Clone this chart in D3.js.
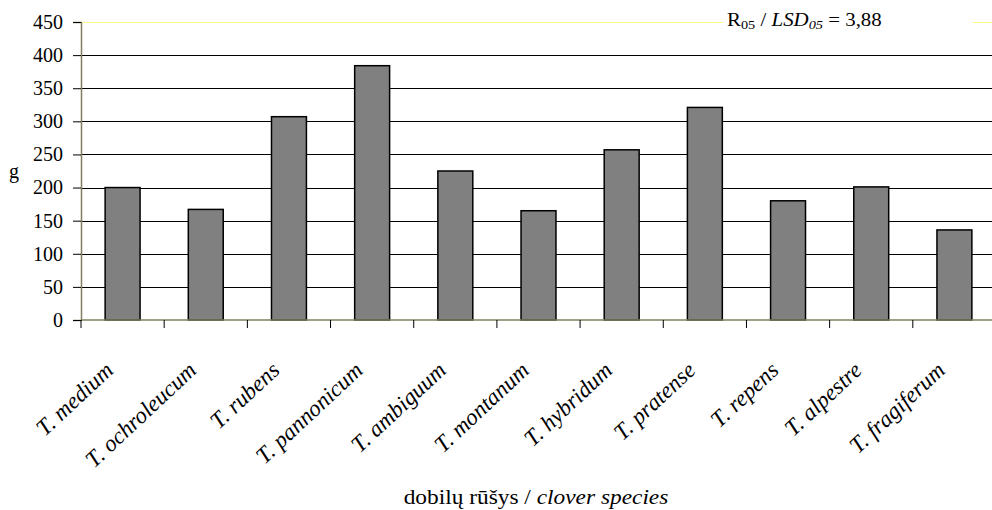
<!DOCTYPE html>
<html>
<head>
<meta charset="utf-8">
<script src="https://cdn.jsdelivr.net/npm/d3@7/dist/d3.min.js"></script>
<style>
  body { margin: 0; background: #fff; }
</style>
</head>
<body>
<svg id="chart"></svg>
<script>
const species = ["T. medium", "T. ochroleucum", "T. rubens", "T. pannonicum", "T. ambiguum",
  "T. montanum", "T. hybridum", "T. pratense", "T. repens", "T. alpestre", "T. fragiferum"];
const mass = [200, 167, 307, 384, 225, 165, 257, 321, 180, 201, 136];
const yTicks = [0, 50, 100, 150, 200, 250, 300, 350, 400, 450];

const width = 992, height = 510;
const plotLeft = 81, plotRight = 996, plotTop = 22, plotBottom = 320;
const serif = "'Liberation Serif', 'Times New Roman', serif";

const svg = d3.select("#chart").attr("width", width).attr("height", height)
  .style("display", "block")
  .attr("font-family", serif);

const x = d3.scaleBand().domain(species).range([plotLeft, plotRight])
  .paddingInner(0.58).paddingOuter(0.29);
const y = d3.scaleLinear().domain([0, 450]).range([plotBottom, plotTop]);

// gridlines, top one is pale yellow
svg.append("g").selectAll("line")
  .data(yTicks.filter(d => d > 0))
  .join("line")
  .attr("x1", plotLeft).attr("x2", plotRight)
  .attr("y1", d => Math.round(y(d)) + 0.5).attr("y2", d => Math.round(y(d)) + 0.5)
  .attr("stroke", d => d == 450 ? "#ffff8c" : "#000")
  .attr("stroke-width", 1);

// box behind the LSD note
svg.append("rect")
  .attr("x", 723).attr("y", 12).attr("width", 250).attr("height", 20)
  .attr("fill", "#fff");

const note = svg.append("text")
  .attr("transform", "translate(727,26) scale(1.1,1)")
  .attr("font-size", 19);
note.append("tspan").text("R");
note.append("tspan").attr("font-size", 13).attr("dy", 3).text("05");
note.append("tspan").attr("dy", -3).text(" / ");
note.append("tspan").attr("font-style", "italic").text("LSD");
note.append("tspan").attr("font-style", "italic").attr("font-size", 13).attr("dy", 3).text("05");
note.append("tspan").attr("dy", -3).text(" = 3,88");

// bars
svg.append("g").selectAll("rect")
  .data(species)
  .join("rect")
  .attr("x", d => x(d))
  .attr("y", (d, i) => y(mass[i]))
  .attr("width", x.bandwidth())
  .attr("height", (d, i) => y(0) - y(mass[i]))
  .attr("fill", "#808080")
  .attr("stroke", "#000")
  .attr("stroke-width", 1.5);

// y axis
const yAxis = svg.append("g")
  .attr("transform", "translate(" + plotLeft + ",0)")
  .call(d3.axisLeft(y).tickValues(yTicks).tickSize(8).tickPadding(10).tickFormat(d3.format("d")));
yAxis.attr("font-family", serif).attr("font-size", 20);
yAxis.select(".domain").attr("stroke", "#80805f").attr("stroke-width", 1.5);
yAxis.selectAll(".tick line").attr("stroke", "#000");
yAxis.selectAll(".tick text").attr("fill", "#000");

// x axis line and ticks between categories
svg.append("line")
  .attr("x1", plotLeft).attr("x2", plotRight).attr("y1", plotBottom).attr("y2", plotBottom)
  .attr("stroke", "#80805f").attr("stroke-width", 1.5);
svg.append("g").selectAll("line")
  .data(d3.range(species.length + 1))
  .join("line")
  .attr("x1", i => plotLeft + i * x.step()).attr("x2", i => plotLeft + i * x.step())
  .attr("y1", plotBottom).attr("y2", plotBottom + 8)
  .attr("stroke", "#000");

// rotated category labels
svg.append("g").selectAll("text")
  .data(species)
  .join("text")
  .attr("transform", d => "translate(" + (x(d) + x.bandwidth() / 2 - 8) + ",372) rotate(-43)")
  .attr("text-anchor", "end")
  .attr("font-size", 23)
  .attr("font-style", "italic")
  .text(d => d);

// axis titles
svg.append("text")
  .attr("x", 14).attr("y", 178)
  .attr("text-anchor", "middle")
  .attr("font-size", 20)
  .text("g");

const xt = svg.append("text")
  .attr("transform", "translate(536,504) scale(1.14,1)")
  .attr("text-anchor", "middle")
  .attr("font-size", 20.5);
xt.append("tspan").text("dobilų rūšys / ");
xt.append("tspan").attr("font-style", "italic").text("clover species");
</script>
</body>
</html>
